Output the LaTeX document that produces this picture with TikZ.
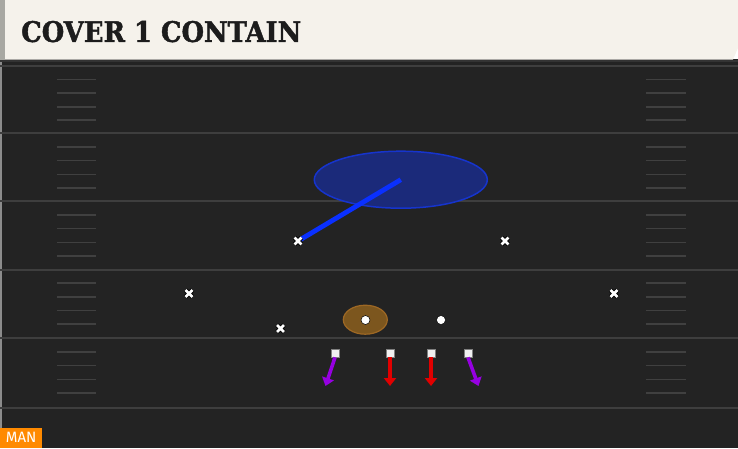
\documentclass[tikz,border=0pt]{standalone}
\usepackage{fontspec}
\setmainfont{DejaVu Serif}
\newfontfamily\titlefont[BoldFeatures={FakeBold=1.6}]{DejaVu Serif}
\newfontfamily\labfont{Fira Sans}
\usetikzlibrary{shapes.misc,shapes.geometric,arrows.meta}
\definecolor{fieldbg}{RGB}{35,35,35}
\definecolor{yardc}{RGB}{62,62,62}
\definecolor{hashc}{RGB}{64,64,64}
\definecolor{cream}{RGB}{245,242,235}
\definecolor{stripc}{RGB}{168,168,162}
\definecolor{titlec}{RGB}{28,28,28}
\definecolor{zonefill}{RGB}{27,42,122}
\definecolor{zonedraw}{RGB}{22,52,205}
\definecolor{zoneline}{RGB}{10,48,255}
\definecolor{qbfill}{RGB}{124,86,30}
\definecolor{qbdraw}{RGB}{158,104,36}
\definecolor{routered}{RGB}{225,0,0}
\definecolor{routepurple}{RGB}{150,0,225}
\definecolor{manorange}{RGB}{255,138,0}
\tikzset{
  yard/.style={draw=yardc,line width=2pt},
  hashmark/.style={draw=hashc,line width=1.6pt},
  xmark/.style={cross out,draw=black,double=white,double distance=2.8pt,line width=0.8pt,inner sep=0pt,minimum size=6pt},
  dot/.style={circle,fill=white,draw=black,line width=0.5pt,inner sep=0pt,minimum size=9pt},
  sq/.style={rectangle,fill=white!94!black,draw=gray,line width=0.8pt,inner sep=0pt,minimum size=8pt},
  zone/.style={ellipse,fill=zonefill,draw=zonedraw,line width=1.5pt,inner sep=0pt,minimum width=173pt,minimum height=57pt},
  qbzone/.style={ellipse,fill=qbfill,draw=qbdraw,line width=1.2pt,inner sep=0pt,minimum width=44pt,minimum height=29pt},
  route/.style={line width=3.6pt,-{Triangle[width=12pt,length=8pt]}},
}
\begin{document}
\begin{tikzpicture}[x=1pt,y=-1pt]
\useasboundingbox (0,0) rectangle (738,448);
% field
\fill[fieldbg] (0,59) rectangle (738,448);
\fill[black!45] (0,59) rectangle (2,448);
\fill[black!80] (0,59.5) rectangle (738,61.5);
% yard lines
\foreach \y in {65.7,133.3,201.3,269.5,338.3,407.7}
  \draw[yard] (0,\y) -- (738,\y);
% hash marks
\foreach \y in {65.7,133.3,201.3,269.5,338.3}
  \foreach \d in {13.7,27.3,41,54.5}{
    \draw[hashmark] (57,\y+\d) -- (96,\y+\d);
    \draw[hashmark] (646,\y+\d) -- (686,\y+\d);
  }
% header
\fill[cream] (5,0) -- (738,0) -- (738,48) -- (733,59.5) -- (5,59.5) -- cycle;
\fill[stripc] (0,0) rectangle (5,59.5);
\node[anchor=south west,inner sep=0pt,text=titlec] (title) at (21,42.5)
  {\resizebox{280pt}{21pt}{\titlefont\bfseries COVER 1 CONTAIN}};
% zone
\node[zone] (zone) at (400.8,179.7) {};
\coordinate (d1) at (298,241);
\draw[zoneline,line width=4.8pt] (d1) -- (zone.center);
% defenders
\node[xmark] (x1) at (d1) {};
\node[xmark] (x2) at (505,241) {};
\node[xmark] (x3) at (189,293.5) {};
\node[xmark] (x4) at (614,293.5) {};
\node[xmark] (x5) at (280.5,328.5) {};
% backfield
\node[qbzone] (qbz) at (365.3,319.7) {};
\node[dot] (qb) at (365.5,320) {};
\node[dot] (rb) at (441,320) {};
% line
\node[sq] (s1) at (335,353) {};
\node[sq] (s2) at (390,353) {};
\node[sq] (s3) at (431,353) {};
\node[sq] (s4) at (468,353) {};
\coordinate (e1) at (325.5,386);
\coordinate (e2) at (390,386);
\coordinate (e3) at (431,386);
\coordinate (e4) at (478.5,386);
\draw[route,routepurple] (s1.south) -- (e1);
\draw[route,routered] (s2.south) -- (e2);
\draw[route,routered] (s3.south) -- (e3);
\draw[route,routepurple] (s4.south) -- (e4);
% man label
\node[fill=manorange,text=white,inner sep=0pt,minimum width=42pt,minimum height=20pt,anchor=south west,font=\labfont\fontsize{15}{16}\selectfont] (man) at (0,448) {MAN};
\end{tikzpicture}
\end{document}
